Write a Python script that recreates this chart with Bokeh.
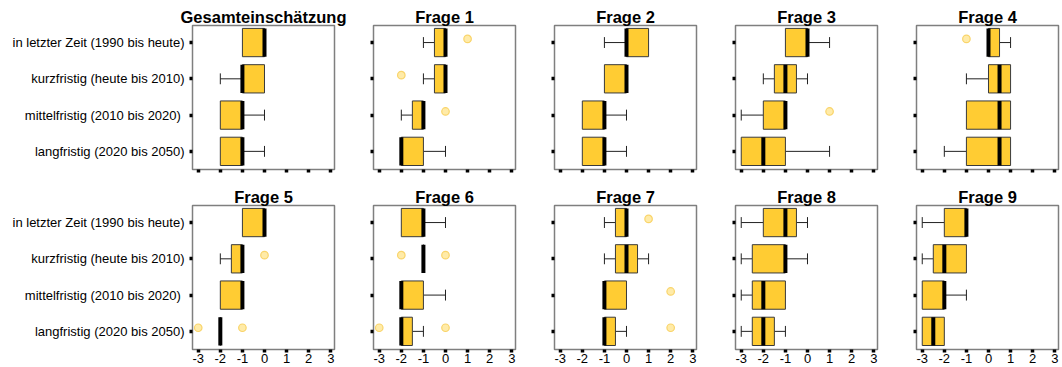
from bokeh.plotting import figure
from bokeh.layouts import row, column
from bokeh.models import Range1d, FixedTicker, ColumnDataSource
from bokeh.transform import dodge
from bokeh.embed import file_html
from bokeh.resources import INLINE

categories = ["in letzter Zeit (1990 bis heute)", "kurzfristig (heute bis 2010)",
              "mittelfristig (2010 bis 2020) ", "langfristig (2020 bis 2050)"]
titles = ["Gesamteinschätzung", "Frage 1", "Frage 2", "Frage 3", "Frage 4",
          "Frage 5", "Frage 6", "Frage 7", "Frage 8", "Frage 9"]
x_ticks = [-3, -2, -1, 0, 1, 2, 3]

# per panel, rows in category order
q1_vals = [[-1, -1, -2, -2], [-0.5, -0.5, -1.5, -2], [0, -1, -2, -2], [-1, -1.5, -2, -3], [0, 0, -1, -1],
           [-1, -1.5, -2, -2], [-2, -1, -2, -2], [-0.5, -0.5, -1, -1], [-2, -2.5, -2.5, -2.5], [-2, -2.5, -3, -3]]
med_vals = [[0, -1, -1, -1], [0, 0, -1, -2], [0, 0, -1, -1], [0, -1, -1, -2], [0, 0.5, 0.5, 0.5],
            [0, -1, -1, -2], [-1, -1, -2, -2], [0, 0, -1, -1], [-1, -1, -2, -2], [-1, -2, -2, -2.5]]
q3_vals = [[0, 0, -1, -1], [0, 0, -1, -1], [1, 0, -1, -1], [0, -0.5, -1, -1], [0.5, 1, 1, 1],
           [0, -1, -1, -2], [-1, -1, -1, -1.5], [0, 0.5, 0, -0.5], [-0.5, -1, -1, -1.5], [-1, -1, -2, -2]]
wlo_vals = [[-1, -2, -2, -2], [-1, -1, -2, -2], [-1, -1, -2, -2], [-1, -2, -3, -3], [0, -1, -1, -2],
            [-1, -2, -2, -2], [-2, -1, -2, -2], [-1, -1, -1, -1], [-3, -3, -3, -3], [-3, -3, -3, -3]]
whi_vals = [[0, 0, 0, 0], [0, 0, -1, 0], [1, 0, 0, 0], [1, 0, -1, 1], [1, 1, 1, 1],
            [0, -1, -1, -2], [0, -1, 0, -1], [0, 1, 0, 0], [0, 0, -1, -1], [-1, -1, -1, -2]]
out_panel = [1, 1, 1, 3, 4, 5, 5, 5, 6, 6, 6, 6, 7, 7, 7]
out_row = [1, 2, 3, 3, 1, 2, 4, 4, 2, 2, 4, 4, 1, 3, 4]
out_val = [1, -2, 0, 1, -1, 0, -3, -1, -2, 0, -3, 0, 1, 2, 2]

FONT = "Liberation Sans"
BOX_H = 0.78
CAP_H = 0.15


def make_panel(i):
    col = i % 5
    bottom_row = (i >= 5)
    p = figure(frame_width=142, frame_height=144,
               x_range=Range1d(-3.26, 3.17), y_range=Range1d(4.5, 0.53),
               output_backend="svg", toolbar_location=None,
               min_border_left=192 if col == 0 else 25,
               min_border_right=3 if col == 4 else 14,
               min_border_top=20 if bottom_row else 25,
               min_border_bottom=17 if bottom_row else 16)
    p.title.text = titles[i]
    p.title.text_font = FONT
    p.title.text_font_size = "16.5px"
    p.title.text_font_style = "bold"
    p.title.text_color = "black"
    p.title.align = "center"
    p.title.standoff = 0
    p.title.offset = 0
    p.background_fill_color = "white"
    p.border_fill_color = "white"
    p.outline_line_color = "#7f7f7f"
    p.outline_line_width = 1.5
    p.xgrid.visible = False
    p.ygrid.visible = False

    ys = [1, 2, 3, 4]
    q1 = q1_vals[i]; md = med_vals[i]; q3 = q3_vals[i]; lo = wlo_vals[i]; hi = whi_vals[i]

    # whiskers
    wx0, wx1, wy = [], [], []
    cx, cy0, cy1 = [], [], []
    for k in range(4):
        if lo[k] < q1[k]:
            wx0.append(lo[k]); wx1.append(q1[k]); wy.append(ys[k])
            cx.append(lo[k]); cy0.append(ys[k] - CAP_H); cy1.append(ys[k] + CAP_H)
        if hi[k] > q3[k]:
            wx0.append(q3[k]); wx1.append(hi[k]); wy.append(ys[k])
            cx.append(hi[k]); cy0.append(ys[k] - CAP_H); cy1.append(ys[k] + CAP_H)
    p.segment(x0=wx0, y0=wy, x1=wx1, y1=wy, line_color="#222222", line_width=1)
    p.segment(x0=cx, y0=cy0, x1=cx, y1=cy1, line_color="#222222", line_width=1)

    # boxes
    p.hbar(y=ys, left=q1, right=q3, height=BOX_H, fill_color="#FFCC33",
           line_color="#3a3a3a", line_width=1)
    # medians
    p.segment(x0=md, y0=[y - BOX_H / 2 for y in ys], x1=md, y1=[y + BOX_H / 2 for y in ys],
              line_color="black", line_width=4, line_cap="butt")

    # outliers
    ox = [v for pn, v in zip(out_panel, out_val) if pn == i]
    oy = [r for pn, r in zip(out_panel, out_row) if pn == i]
    if ox:
        src = ColumnDataSource(dict(x=ox, y=oy))
        p.scatter(x="x", y=dodge("y", -0.1), source=src, size=7.5, marker="circle",
                  fill_color="#FFEBA8", line_color="#F9D46A", line_width=1.2)

    # axes
    for ax in (p.xaxis[0], p.yaxis[0]):
        ax.axis_line_color = None
        ax.major_tick_in = 0
        ax.major_tick_out = 3
        ax.major_tick_line_width = 3.5
        ax.major_tick_line_color = "black"
        ax.minor_tick_line_color = None
        ax.major_label_text_font = FONT
        ax.major_label_text_font_size = "13px"
        ax.major_label_text_color = "black"
    p.xaxis.ticker = FixedTicker(ticks=x_ticks)
    p.yaxis.ticker = FixedTicker(ticks=[1, 2, 3, 4])
    p.xaxis.major_label_standoff = 1
    p.yaxis.major_label_standoff = 5
    if col == 0:
        p.yaxis.major_label_overrides = {k + 1: categories[k] for k in range(4)}
    else:
        p.yaxis.major_label_overrides = {k + 1: "" for k in range(4)}
        p.yaxis.major_label_text_font_size = "0px"
    if bottom_row:
        p.xaxis.major_label_overrides = {t: str(t) for t in x_ticks}
    else:
        p.xaxis.major_label_overrides = {t: "" for t in x_ticks}
        p.xaxis.major_label_text_font_size = "0px"
    return p


panels = [make_panel(i) for i in range(10)]
layout = column(row(*panels[:5]), row(*panels[5:]))
open("out.html", "w").write(file_html(layout, INLINE))
